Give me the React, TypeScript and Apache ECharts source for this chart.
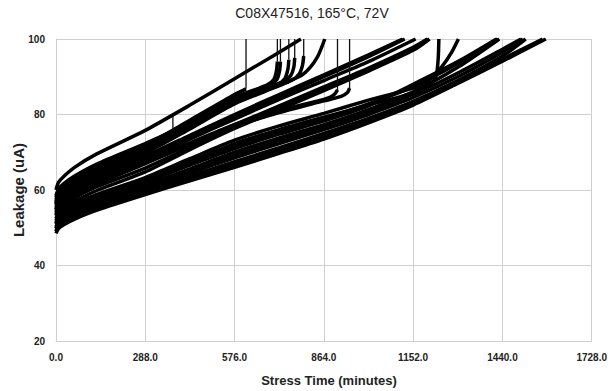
import React, { useEffect, useRef } from "react";
import * as echarts from "echarts";

// ---- tick labels / axes ----
const X_TICKS = [0, 288, 576, 864, 1152, 1440, 1728];
const Y_TICKS = [20, 40, 60, 80, 100];
const TITLE = "C08X47516, 165\u00B0C, 72V";
const X_NAME = "Stress Time (minutes)";
const Y_NAME = "Leakage (uA)";

// ---- leakage curves: [stress time (min), leakage (uA)] ----
const TOP = [[0,60],[8,62],[25,63.6],[60,66],[130,69.5],[288,75.8],[432,82.5],[576,89.5],[700,95.5],[790,100]];
const U0 = [[0,58.5],[8,60.3],[25,61.7],[60,63.7],[130,66.8],[288,72.3],[376,75.6]];
const U1 = [[0,58],[8,59.8],[25,61.2],[60,63.2],[130,66.3],[288,71.8],[432,78.5],[576,85.3],[613,86.8]];
const U2 = [[0,57.5],[8,59.3],[25,60.7],[60,62.7],[130,65.8],[288,71.3],[432,77.8],[576,84.5],[680,87.8],[702,89.2],[711,91.5],[714,94]];
const U3 = [[0,57],[8,58.8],[25,60.2],[60,62.2],[130,65.3],[288,70.8],[432,77.2],[576,84],[690,87.8],[712,89.2],[721,91.5],[724,94]];
const U4 = [[0,56.5],[8,58.3],[25,59.7],[60,61.7],[130,64.8],[288,70.3],[432,76.7],[576,83.3],[715,88],[738,89.5],[748,92],[751,94.5]];
const U5 = [[0,56.8],[8,58.6],[25,60],[60,62],[130,65.1],[288,70.6],[432,77],[576,83.7],[735,88.8],[757,90.3],[767,92.5],[770,95]];
const U6 = [[0,56],[8,57.8],[25,59.2],[60,61.2],[130,64.3],[288,69.8],[432,76.2],[576,82.8],[760,89],[785,90.8],[795,93],[799,95.5]];
const U7 = [[0,56.3],[8,58.1],[25,59.5],[60,61.5],[130,64.5],[288,70],[432,76.4],[576,83],[720,87.8],[790,90.3],[820,92.5],[845,95.5],[867,100]];
const U8 = [[0,54.5],[8,56.2],[25,57.6],[60,59.5],[130,62.5],[288,67.8],[432,72.5],[576,77.3],[720,81],[864,84],[885,84.6],[900,85.5],[908,86.5]];
const U9 = [[0,54],[8,55.7],[25,57.1],[60,59],[130,61.9],[288,67.3],[432,72],[576,76.8],[720,80.5],[864,83.6],[920,84.8],[940,85.8],[947,87]];
const M1 = [[0,55.5],[8,57.3],[25,58.7],[60,60.6],[130,63.6],[288,69],[432,74.5],[576,80],[720,85.3],[864,90.5],[1008,95.8],[1118,100]];
const M2 = [[0,55],[8,56.8],[25,58.1],[60,60.1],[130,63.1],[288,68.6],[432,74],[576,79.5],[720,84.8],[864,90],[1008,95.3],[1125,100]];
const M3 = [[0,54.8],[8,56.5],[25,57.9],[60,59.8],[130,62.8],[288,68.2],[432,73.5],[576,78.8],[720,84],[864,89],[1008,94],[1160,100]];
const M4 = [[0,53.5],[8,55.2],[25,56.5],[60,58.5],[130,61.5],[288,67],[432,72.2],[576,77.3],[720,82.3],[864,87.3],[1008,92.3],[1152,97.8],[1198,100]];
const M5 = [[0,52.5],[8,54],[25,55.2],[60,57],[130,59.8],[288,64.8],[432,70.7],[576,76.3],[720,81.3],[864,86.3],[1008,91.5],[1152,97],[1205,100]];
const M6 = [[0,53.2],[8,54.8],[25,56],[60,57.9],[130,60.8],[288,65.8],[432,71.3],[576,77],[720,82],[864,87],[1008,92],[1152,97.3],[1200,100]];
const L1 = [[0,51.5],[8,53],[25,54.1],[60,55.8],[130,58.2],[288,62.7],[432,67.5],[576,72.3],[720,76],[864,79.3],[1008,82.5],[1154,85.8],[1214,88.5],[1228,91],[1233,95],[1235,100]];
const L2 = [[0,52],[8,53.5],[25,54.6],[60,56.3],[130,58.8],[288,63.3],[432,68.3],[576,73.2],[720,77],[864,80.3],[1008,83.8],[1152,87],[1200,88.8],[1246,92.8],[1275,96.3],[1298,100]];
const L3 = [[0,51],[8,52.5],[25,53.6],[60,55.2],[130,57.6],[288,62],[432,66.6],[576,71],[720,74.8],[864,78.3],[1008,82.3],[1152,88],[1296,94],[1421,100]];
const L4 = [[0,50.3],[8,51.7],[25,52.8],[60,54.4],[130,56.8],[288,61.3],[432,65.6],[576,70],[720,73.8],[864,77.3],[1008,81.3],[1152,86],[1296,92.5],[1430,100]];
const L5 = [[0,49.8],[8,51.2],[25,52.2],[60,53.8],[130,56.1],[288,60.4],[432,64.5],[576,68.5],[720,72.3],[864,76],[1008,80],[1152,84.5],[1296,90],[1440,96.5],[1506,100]];
const L6 = [[0,49.2],[8,50.6],[25,51.6],[60,53.1],[130,55.4],[288,59.8],[432,63.7],[576,67.5],[720,71.2],[864,75],[1008,79],[1152,83.5],[1296,89],[1440,95.5],[1515,100]];
const L7 = [[0,48.5],[8,49.8],[25,50.8],[60,52.3],[130,54.6],[288,58.8],[432,62.4],[576,66],[720,69.7],[864,73.5],[1008,77.8],[1152,82.5],[1296,88.2],[1440,94.1],[1580,100]];
const L8 = [[0,49],[8,50.3],[25,51.3],[60,52.8],[130,55.1],[288,59.3],[432,63.1],[576,66.8],[720,70.5],[864,74.3],[1008,78.5],[1152,83.2],[1296,88.8],[1440,94.7],[1570,100]];
const L9 = [[0,51.2],[8,52.7],[25,53.8],[60,55.5],[130,57.9],[288,62.4],[432,67.1],[576,71.7],[720,75.5],[864,78.9],[1008,82.8],[1152,87.4],[1296,93.5],[1425,100]];
const L10 = [[0,50],[8,51.4],[25,52.5],[60,54.1],[130,56.5],[288,60.9],[432,65],[576,69.2],[720,73],[864,76.7],[1008,80.7],[1152,85.3],[1296,91],[1440,97.3],[1500,100]];

const CURVES = [TOP, U0, U1, U2, U3, U4, U5, U6, U7, U8, U9, M1, M2, M3, M4, M5, M6, L1, L2, L3, L4, L5, L6, L7, L8, L9, L10];

// abrupt failures: [time, leakage before, leakage after]
const JUMPS = [[377,75.6,79.6],[613,86.8,100],[714,94,100],[724,94,100],[751,94.5,100],[770,95,100],[799,95.5,100],[908,86.5,100],[947,87,100]];

export default function App() {
  const ref = useRef<HTMLDivElement>(null);
  useEffect(() => {
    if (!ref.current) return;
    const chart = echarts.init(ref.current, null, { renderer: "svg" });
    const tickFont = {
      fontFamily: "'Liberation Sans', Arial, sans-serif",
      fontSize: 10,
      fontWeight: "bold" as const,
      color: "#222",
    };
    const series: any[] = CURVES.map((c, i) => ({
      type: "line",
      name: "c" + i,
      data: c,
      showSymbol: false,
      symbol: "none",
      smooth: 0.25,
      lineStyle: { color: "#000", width: 3.5 },
      silent: true,
    }));
    JUMPS.forEach((j, i) => {
      series.push({
        type: "line",
        name: "j" + i,
        data: [[j[0], j[1]], [j[0], j[2]]],
        showSymbol: false,
        symbol: "none",
        lineStyle: { color: "#111", width: 1.3 },
        silent: true,
      });
    });
    chart.setOption({
      animation: false,
      backgroundColor: "#fff",
      grid: { left: 56, right: 12, top: 39, bottom: 50 },
      xAxis: {
        type: "value",
        min: X_TICKS[0],
        max: X_TICKS[X_TICKS.length - 1],
        interval: X_TICKS[1] - X_TICKS[0],
        axisLine: { show: true, lineStyle: { color: "#cfcfcf", width: 1 } },
        axisTick: { show: false },
        axisLabel: { ...tickFont, margin: 11, formatter: (v: number) => v.toFixed(1) },
        splitLine: { show: true, lineStyle: { color: "#cfcfcf", width: 1 } },
      },
      yAxis: {
        type: "value",
        min: Y_TICKS[0],
        max: Y_TICKS[Y_TICKS.length - 1],
        interval: Y_TICKS[1] - Y_TICKS[0],
        axisLine: { show: true, lineStyle: { color: "#cfcfcf", width: 1 } },
        axisTick: { show: false },
        axisLabel: { ...tickFont, margin: 11 },
        splitLine: { show: true, lineStyle: { color: "#cfcfcf", width: 1 } },
      },
      graphic: [
        {
          type: "text",
          x: 312,
          y: 13,
          style: {
            text: TITLE,
            align: "center",
            verticalAlign: "middle",
            fontFamily: "'Liberation Sans', Arial, sans-serif",
            fontSize: 14,
            fill: "#222",
          },
        },
        {
          type: "text",
          x: 329,
          y: 380,
          style: {
            text: X_NAME,
            align: "center",
            verticalAlign: "middle",
            fontFamily: "'Liberation Sans', Arial, sans-serif",
            fontSize: 13,
            fontWeight: "bold",
            fill: "#222",
          },
        },
        {
          type: "text",
          x: 18,
          y: 190,
          rotation: Math.PI / 2,
          style: {
            text: Y_NAME,
            align: "center",
            verticalAlign: "middle",
            fontFamily: "'Liberation Sans', Arial, sans-serif",
            fontSize: 15,
            fontWeight: "bold",
            fill: "#222",
          },
        },
      ],
      series,
    });
    return () => chart.dispose();
  }, []);
  return (
    <div
      ref={ref}
      style={{ position: "fixed", left: 0, top: 0, width: 610, height: 391, background: "#fff" }}
    />
  );
}
